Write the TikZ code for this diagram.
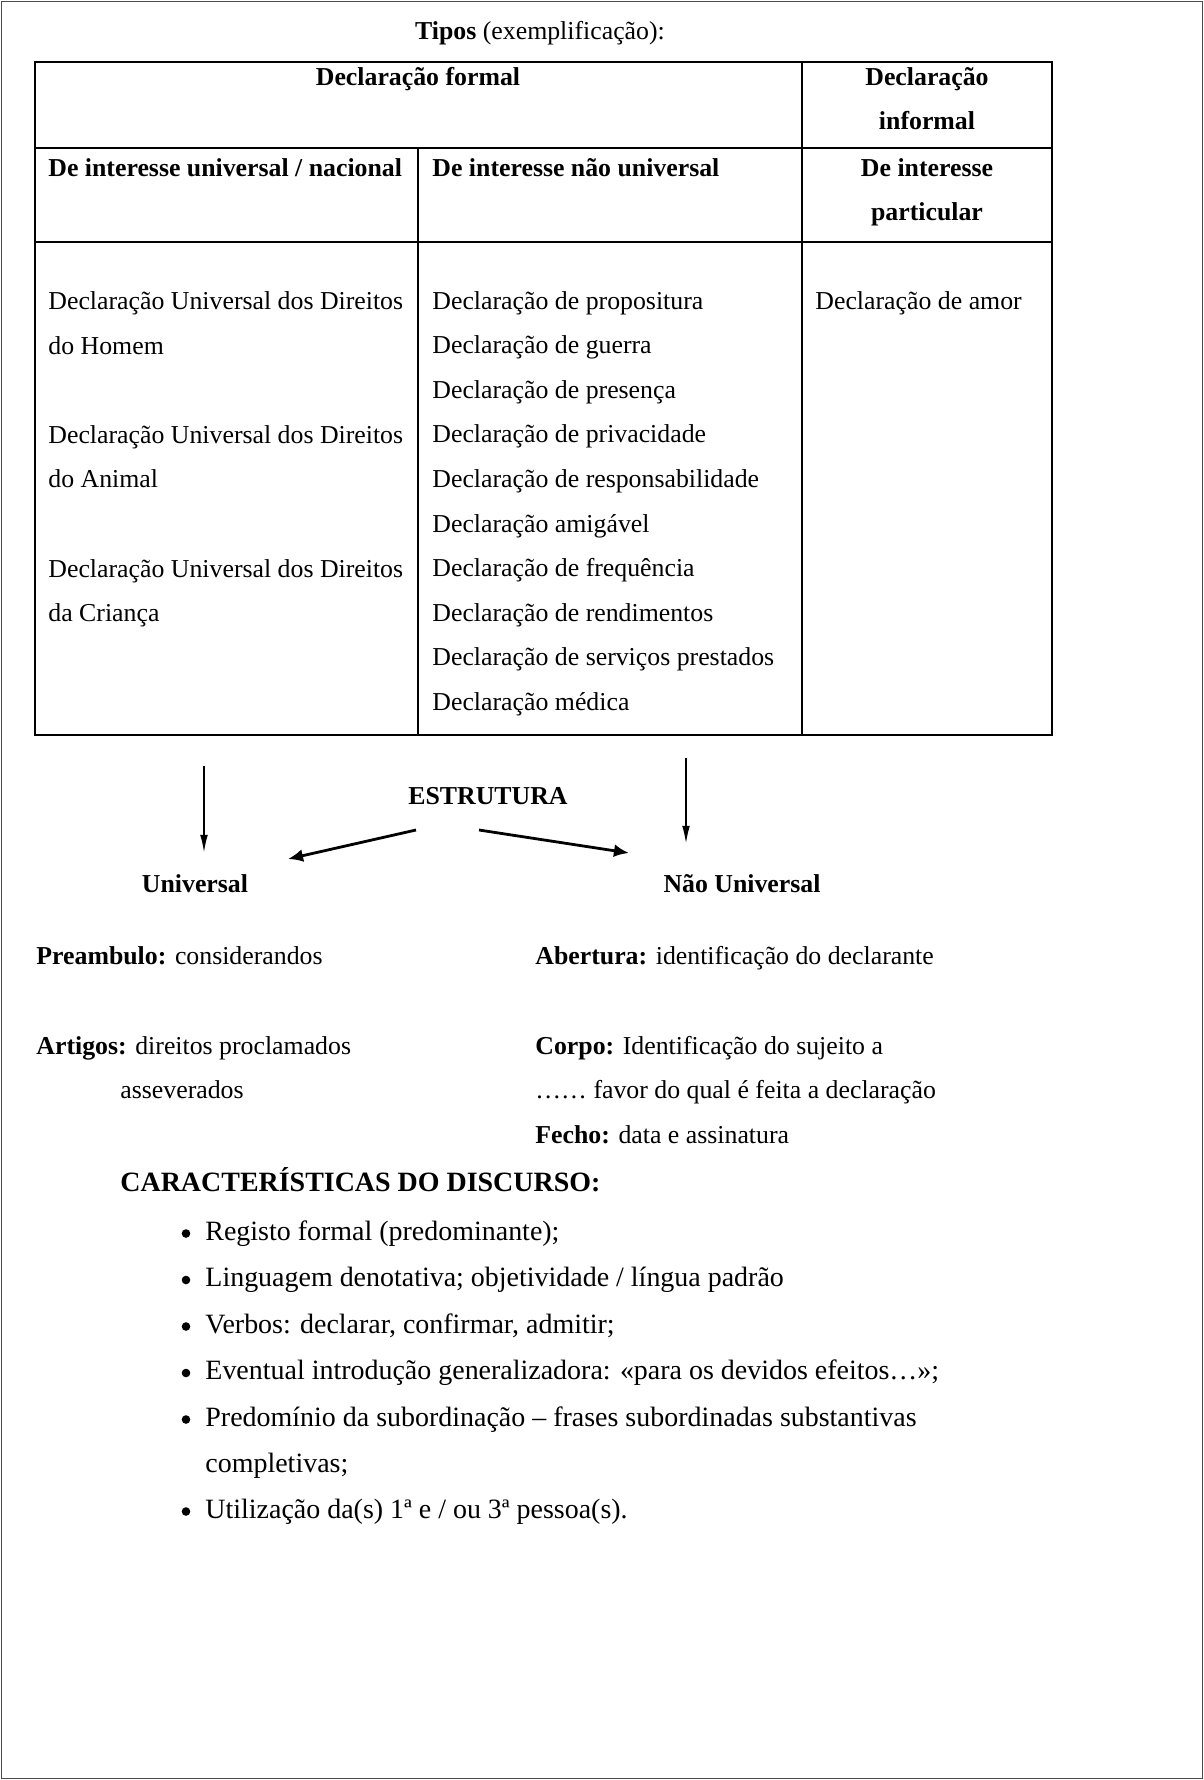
\documentclass[tikz,border=0pt]{standalone}
\usepackage{fontspec}
\setmainfont{Liberation Serif}
\usetikzlibrary{arrows.meta}
\tikzset{
  txt/.style={anchor=base west, inner sep=0pt, font=\fontsize{12}{14}\selectfont},
  ctxt/.style={txt, anchor=base},
  btxt/.style={txt, font=\fontsize{13}{15}\selectfont},
  rule/.style={line width=1.3pt},
  thin rule/.style={line width=0.9pt},
  down/.style={line width=0.5pt, -{Latex[length=8pt,width=3.6pt]}},
  slant/.style={line width=1.3pt, -{Latex[length=7pt,width=6pt]}}
}
\begin{document}
\begin{tikzpicture}[x=0.465pt, y=-0.465pt]
  \useasboundingbox (0,0) rectangle (1204,1780);
  % outer frame
  \draw[line width=0.8pt, black!70] (1.5,1.5) rectangle (1202.5,1778.5);
  \node[ctxt] (tipos) at (540,40) {\textbf{Tipos} (exemplificação):};
  % table
  \draw[rule] (35,62) rectangle (1052,735);
  \draw[thin rule] (35,148) -- (1052,148);
  \draw[thin rule] (35,242) -- (1052,242);
  \draw[thin rule] (802,62) -- (802,735);
  \draw[thin rule] (418,148) -- (418,735);
  \draw[rule] (35,735) -- (1052,735);
  % headers
  \node[ctxt] (formal) at (418,86) {\textbf{Declaração formal}};
  \node[ctxt] (informal1) at (927,86) {\textbf{Declaração}};
  \node[ctxt] (informal2) at (927,130) {\textbf{informal}};
  \node[txt] (univ) at (48,176) {\textbf{De interesse universal / nacional}};
  \node[txt] (naouniv) at (432,176) {\textbf{De interesse não universal}};
  \node[ctxt] (partic1) at (927,176) {\textbf{De interesse}};
  \node[ctxt] (partic2) at (927,220) {\textbf{particular}};
  % column 1
  \node[txt] (homem1) at (48,309) {Declaração Universal dos Direitos};
  \node[txt] (homem2) at (48,354) {do Homem};
  \node[txt] (animal1) at (48,443) {Declaração Universal dos Direitos};
  \node[txt] (animal2) at (48,487) {do Animal};
  \node[txt] (crianca1) at (48,577) {Declaração Universal dos Direitos};
  \node[txt] (crianca2) at (48,621) {da Criança};
  % column 2
  \foreach \name [count=\i from 0] in {de propositura, de guerra, de presença,
      de privacidade, de responsabilidade, amigável, de frequência,
      de rendimentos, de serviços prestados, médica}
    \node[txt] (decl\i) at (432,309+44.6*\i) {Declaração \name};
  % column 3
  \node[txt] (amor) at (815,309) {Declaração de amor};
  % structure
  \node[ctxt] (estrutura) at (488,804) {\textbf{ESTRUTURA}};
  \node[ctxt] (universal) at (195,892) {\textbf{Universal}};
  \node[ctxt] (naouniversal) at (742,892) {\textbf{Não Universal}};
  \coordinate (lt) at (204,766);
  \coordinate (lb) at (204,852);
  \coordinate (rt) at (686,758);
  \coordinate (rb) at (686,843);
  \coordinate (sl) at (416,830);
  \coordinate (el) at (288,859);
  \coordinate (sr) at (479,830);
  \coordinate (er) at (629,853);
  \draw[down] (lt) -- (lb);
  \draw[down] (rt) -- (rb);
  \draw[slant] (sl) -- (el);
  \draw[slant] (sr) -- (er);
  % parts
  \node[txt] (preambulo) at (36,964) {\textbf{Preambulo:} considerandos};
  \node[txt] (artigos1) at (36,1054) {\textbf{Artigos:} direitos proclamados};
  \node[txt] (artigos2) at (120,1098) {asseverados};
  \node[txt] (abertura) at (535,964) {\textbf{Abertura:} identificação do declarante};
  \node[txt] (corpo1) at (535,1054) {\textbf{Corpo:} Identificação do sujeito a};
  \node[txt] (corpo2) at (535,1098) {…… favor do qual é feita a declaração};
  \node[txt] (fecho) at (535,1143) {\textbf{Fecho:} data e assinatura};
  % discourse
  \node[txt, font=\fontsize{13}{15}\selectfont\bfseries] (caract) at (120,1191)
    {CARACTERÍSTICAS DO DISCURSO:};
  \foreach \item [count=\i from 0] in {Registo formal (predominante);,
      Linguagem denotativa; objetividade / língua padrão,
      {Verbos: declarar, confirmar, admitir;},
      Eventual introdução generalizadora: «para os devidos efeitos…»;,
      Predomínio da subordinação – frases subordinadas substantivas}
  {
    \node[btxt] (item\i) at (205,1240+46.5*\i) {\item};
    \fill (item\i.base west) ++(-19,-6.5) circle (4.3);
  }
  \node[btxt] (item5) at (205,1472) {completivas;};
  \node[btxt] (item6) at (205,1518) {Utilização da(s) 1ª e / ou 3ª pessoa(s).};
  \fill (item6.base west) ++(-19,-6.5) circle (4.3);
\end{tikzpicture}
\end{document}
